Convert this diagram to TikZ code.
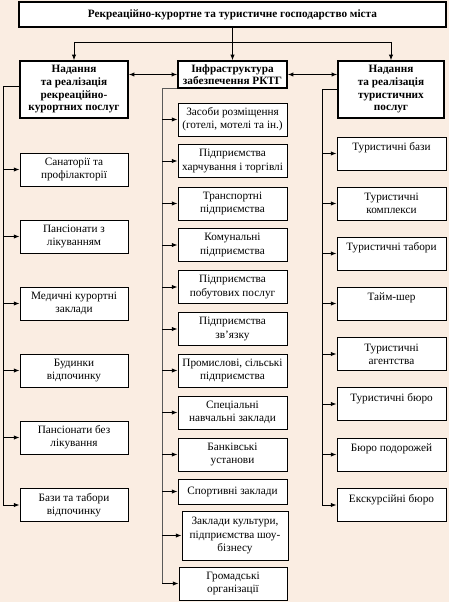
\documentclass[tikz,border=0pt]{standalone}
\usepackage{fontspec}
\setmainfont{Liberation Serif}
\usepackage{xcolor}
\usetikzlibrary{arrows.meta}
\definecolor{paper}{HTML}{FAEDE2}

\begin{document}
\begin{tikzpicture}[
  x=0.025cm, y=-0.025cm,
  box/.style={rectangle, draw, fill=white, line width=0.6pt, align=center,
    inner sep=1pt, minimum width=2.725cm, minimum height=0.825cm,
    font=\fontsize{8}{9.3}\selectfont},
  head/.style={box, line width=0.9pt, font=\fontsize{8}{9}\selectfont\bfseries},
  arrow/.style={-{Latex[length=4pt,width=3pt]}, line width=0.6pt},
  twoway/.style={{Latex[length=4pt,width=3pt]}-{Latex[length=4pt,width=3pt]}, line width=1pt},
  spine/.style={line width=0.7pt},
]
\useasboundingbox (0,0) rectangle (449,602);
\fill[paper] (0,0) rectangle (449,602);

% top level
\node[head, line width=1.8pt, minimum width=10.675cm, minimum height=0.625cm] (top) at (232.5,14.5)
  {Рекреаційно-курортне та туристичне господарство міста};
\node[head, minimum width=2.7cm, minimum height=1.425cm] (hdrL) at (74,89.5)
  {Надання\\ та реалізація\\ рекреаційно-\\ курортних послуг};
\node[head, minimum height=0.675cm] (hdrM) at (232.5,74.5)
  {Інфраструктура\\ забезпечення РКТГ};
\node[head, minimum width=2.65cm, minimum height=1.425cm] (hdrR) at (391,89.5)
  {Надання\\ та  реалізація\\ туристичних\\ послуг};

\coordinate (bus) at (232.5,42);
\draw[spine] (top) -- (bus);
\draw[spine] (bus -| hdrL) -- (bus -| hdrR);
\draw[arrow] (bus -| hdrL) -- (hdrL);
\draw[arrow] (bus) -- (hdrM);
\draw[arrow] (bus -| hdrR) -- (hdrR);
\draw[twoway] (hdrM.west -| hdrL.east) -- (hdrM.west);
\draw[twoway] (hdrM.east) -- (hdrM.east -| hdrR.west);

% recreation services
\node[box, minimum width=2.7cm] (L1) at (74,169.5) {Санаторії та\\ профілакторії};
\node[box, minimum width=2.7cm] (L2) at (74,236.5) {Пансіонати з\\ лікуванням};
\node[box, minimum width=2.7cm] (L3) at (74,303.5) {Медичні курортні\\ заклади};
\node[box, minimum width=2.7cm] (L4) at (74,370.5) {Будинки\\ відпочинку};
\node[box, minimum width=2.7cm] (L5) at (74,437.5) {Пансіонати без\\ лікування};
\node[box, minimum width=2.7cm] (L6) at (74,505) {Бази та табори\\ відпочинку};

% infrastructure
\node[box] (M1) at (232.5,119.5) {Засоби розміщення\\ (готелі, мотелі та ін.)};
\node[box] (M2) at (232.5,161) {Підприємства\\ харчування і торгівлі};
\node[box] (M3) at (232.5,203.5) {Транспортні\\ підприємства};
\node[box] (M4) at (232.5,245) {Комунальні\\ підприємства};
\node[box] (M5) at (232.5,287) {Підприємства\\ побутових послуг};
\node[box] (M6) at (232.5,329) {Підприємства\\ зв’язку};
\node[box] (M7) at (232.5,370.5) {Промислові, сільські\\ підприємства};
\node[box] (M8) at (232.5,412.5) {Спеціальні\\ навчальні заклади};
\node[box] (M9) at (232.5,454.5) {Банківські\\ установи};
\node[box, minimum height=0.625cm] (M10) at (232.5,491.5) {Спортивні заклади};
\node[box, minimum width=2.65cm, minimum height=1.225cm] (M11) at (235,535.5)
  {Заклади культури,\\ підприємства шоу-\\ бізнесу};
\node[box, minimum width=2.7cm] (M12) at (233,583.5) {Громадські\\ організації};

% tourist services
\node[box] (R1) at (391.5,153.5) {Туристичні бази\\ \mbox{}};
\node[box] (R2) at (391.5,203.5) {Туристичні\\ комплекси};
\node[box] (R3) at (391.5,253.5) {Туристичні табори\\ \mbox{}};
\node[box] (R4) at (391.5,303.5) {Тайм-шер\\ \mbox{}};
\node[box] (R5) at (391.5,354) {Туристичні\\ агентства};
\node[box] (R6) at (391.5,404) {Туристичні бюро\\ \mbox{}};
\node[box] (R7) at (391.5,454.5) {Бюро подорожей\\ \mbox{}};
\node[box] (R8) at (391.5,505) {Екскурсійні бюро\\ \mbox{}};

% spines
\coordinate (spL) at (3,0);
\coordinate (spM) at (162,0);
\coordinate (spR) at (322,0);
\draw[spine] ([yshift=2pt]hdrL.west) -| (spL |- L6.west);
\draw[spine, black!65] (hdrM.south west) -| (spM |- M12.west);
\draw[spine] (hdrR.west) -| (spR |- R8.west);

\draw[arrow] (spL |- L1.west) -- (L1.west);
\draw[arrow] (spL |- L2.west) -- (L2.west);
\draw[arrow] (spL |- L3.west) -- (L3.west);
\draw[arrow] (spL |- L4.west) -- (L4.west);
\draw[arrow] (spL |- L5.west) -- (L5.west);
\draw[arrow] (spL |- L6.west) -- (L6.west);

\draw[arrow] (spM |- M1.west) -- (M1.west);
\draw[arrow] (spM |- M2.west) -- (M2.west);
\draw[arrow] (spM |- M3.west) -- (M3.west);
\draw[arrow] (spM |- M4.west) -- (M4.west);
\draw[arrow] (spM |- M5.west) -- (M5.west);
\draw[arrow] (spM |- M6.west) -- (M6.west);
\draw[arrow] (spM |- M7.west) -- (M7.west);
\draw[arrow] (spM |- M8.west) -- (M8.west);
\draw[arrow] (spM |- M9.west) -- (M9.west);
\draw[arrow] (spM |- M10.west) -- (M10.west);
\draw[arrow] (spM |- M11.west) -- (M11.west);
\draw[arrow] (spM |- M12.west) -- (M12.west);

\draw[arrow] (spR |- R1.west) -- (R1.west);
\draw[arrow] (spR |- R2.west) -- (R2.west);
\draw[arrow] (spR |- R3.west) -- (R3.west);
\draw[arrow] (spR |- R4.west) -- (R4.west);
\draw[arrow] (spR |- R5.west) -- (R5.west);
\draw[arrow] (spR |- R6.west) -- (R6.west);
\draw[arrow] (spR |- R7.west) -- (R7.west);
\draw[arrow] (spR |- R8.west) -- (R8.west);
\end{tikzpicture}
\end{document}
